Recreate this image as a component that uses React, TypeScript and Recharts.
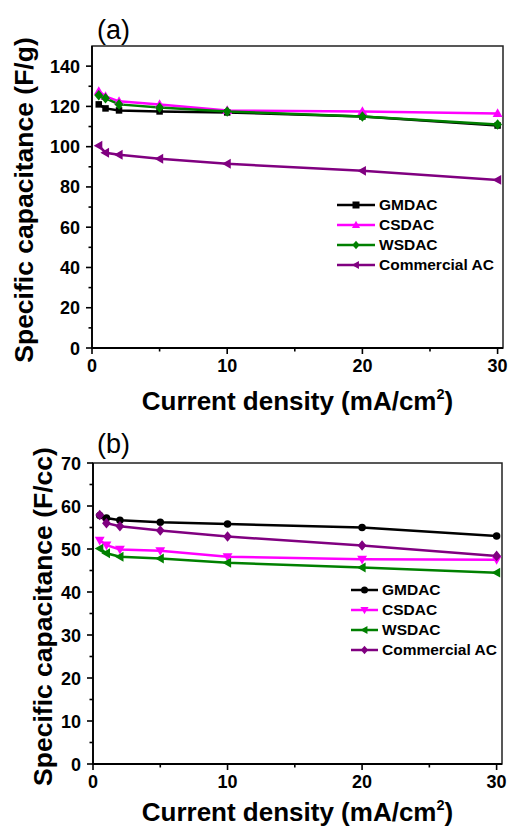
import React from 'react';
import { LineChart, Line, XAxis, YAxis, Legend, ReferenceArea } from 'recharts';

// ---- data ----
const currentDensity = [0.5, 1, 2, 5, 10, 20, 30];

// (a) gravimetric capacitance, F/g
const gmdacG = [121, 119, 118, 117.5, 117, 115, 110.5];
const csdacG = [127.5, 125, 122.5, 121, 118, 117.5, 116.5];
const wsdacG = [125.5, 124, 121, 119.5, 117.5, 115, 111];
const commercialG = [100.5, 97, 96, 94, 91.5, 88, 83.5];

// (b) volumetric capacitance, F/cc
const gmdacCC = [57.8, 57.2, 56.7, 56.2, 55.8, 55, 53];
const csdacCC = [52, 50.9, 49.9, 49.6, 48.2, 47.6, 47.5];
const wsdacCC = [50.1, 49, 48.2, 47.8, 46.8, 45.7, 44.5];
const commercialCC = [57.9, 56, 55.3, 54.3, 52.9, 50.8, 48.4];

const seriesNames = ['GMDAC', 'CSDAC', 'WSDAC', 'Commercial AC'];
const seriesKeys = ['gmdac', 'csdac', 'wsdac', 'commercial'];
const seriesColors = ['#000000', '#ff00ff', '#008000', '#800080'];
const markersA = ['square', 'triUp', 'diamond', 'triLeft'];
const markersB = ['circle', 'triDown', 'triLeft', 'diamond'];

const xTicks = [0, 5, 10, 15, 20, 25, 30];
const yTicksA = [0, 10, 20, 30, 40, 50, 60, 70, 80, 90, 100, 110, 120, 130, 140];
const yTicksB = [0, 5, 10, 15, 20, 25, 30, 35, 40, 45, 50, 55, 60, 65, 70];

const buildRows = (cols: number[][]) =>
  currentDensity.map((x, i) => {
    const r: Record<string, number> = { x };
    seriesKeys.forEach((k, j) => {
      r[k] = cols[j][i];
    });
    return r;
  });

const rowsA = buildRows([gmdacG, csdacG, wsdacG, commercialG]);
const rowsB = buildRows([gmdacCC, csdacCC, wsdacCC, commercialCC]);

const FONT = '"Liberation Sans", Arial, Helvetica, sans-serif';

// ---- drawing helpers ----
function Marker({ cx, cy, kind, color, s }: { cx: number; cy: number; kind: string; color: string; s: number }) {
  if (cx == null || cy == null) return null;
  switch (kind) {
    case 'square':
      return <rect x={cx - s / 2} y={cy - s / 2} width={s} height={s} fill={color} />;
    case 'circle':
      return <circle cx={cx} cy={cy} r={s / 2} fill={color} />;
    case 'triUp':
      return (
        <polygon
          points={`${cx},${cy - s * 0.6} ${cx + s * 0.58},${cy + s * 0.42} ${cx - s * 0.58},${cy + s * 0.42}`}
          fill={color}
        />
      );
    case 'triDown':
      return (
        <polygon
          points={`${cx},${cy + s * 0.6} ${cx + s * 0.58},${cy - s * 0.42} ${cx - s * 0.58},${cy - s * 0.42}`}
          fill={color}
        />
      );
    case 'triLeft':
      return (
        <polygon
          points={`${cx - s * 0.6},${cy} ${cx + s * 0.42},${cy - s * 0.58} ${cx + s * 0.42},${cy + s * 0.58}`}
          fill={color}
        />
      );
    case 'diamond':
    default:
      return (
        <polygon
          points={`${cx},${cy - s * 0.62} ${cx + s * 0.52},${cy} ${cx},${cy + s * 0.62} ${cx - s * 0.52},${cy}`}
          fill={color}
        />
      );
  }
}

const XTick = (props: any) => {
  const { x, y, payload } = props;
  const v = payload.value;
  const major = v % 10 === 0;
  return (
    <g>
      <line x1={x} x2={x} y1={y} y2={y + (major ? 6 : 3.5)} stroke="#000" strokeWidth={1.6} />
      {major && (
        <text x={x} y={y + 24} textAnchor="middle" fontSize={18} fontWeight="bold" fontFamily={FONT} fill="#000">
          {v}
        </text>
      )}
    </g>
  );
};

const YTick = (props: any) => {
  const { x, y, payload, majorStep } = props;
  const v = payload.value;
  const isMajor = v % majorStep === 0;
  return (
    <g>
      <line x1={x} x2={x - (isMajor ? 6 : 3.5)} y1={y} y2={y} stroke="#000" strokeWidth={1.6} />
      {isMajor && (
        <text x={x - 12} y={y + 6.5} textAnchor="end" fontSize={18} fontWeight="bold" fontFamily={FONT} fill="#000">
          {v}
        </text>
      )}
    </g>
  );
};

const YTitle = (props: any) => {
  const { viewBox, value, baseX } = props;
  const cy = viewBox.y + viewBox.height / 2 + 3;
  return (
    <text
      x={baseX}
      y={cy}
      transform={`rotate(-90 ${baseX} ${cy})`}
      textAnchor="middle"
      fontSize={26.5}
      fontWeight="bold"
      fontFamily={FONT}
      fill="#000"
    >
      {value}
    </text>
  );
};

const XTitle = (props: any) => {
  const { viewBox, dyBase } = props;
  const cx = viewBox.x + viewBox.width / 2;
  const y = viewBox.y + dyBase;
  return (
    <text x={cx} y={y} textAnchor="middle" fontSize={26} fontWeight="bold" fontFamily={FONT} fill="#000">
      Current density (mA/cm
      <tspan dy={-11} fontSize={14.5}>
        2
      </tspan>
      <tspan dy={11}>)</tspan>
    </text>
  );
};

function LegendBox({ markers, lineLen, size }: { markers: string[]; lineLen: number; size: number }) {
  return (
    <div style={{ fontFamily: FONT, fontWeight: 'bold', fontSize: 15.5, color: '#000' }}>
      {seriesNames.map((n, i) => (
        <div key={n} style={{ display: 'flex', alignItems: 'center', height: 20, whiteSpace: 'nowrap' }}>
          <svg width={lineLen + 4} height={20} style={{ display: 'block' }}>
            <line x1={1} x2={lineLen + 1} y1={10} y2={10} stroke={seriesColors[i]} strokeWidth={2.5} />
            <Marker cx={lineLen / 2 + 1} cy={10} kind={markers[i]} color={seriesColors[i]} s={size} />
          </svg>
          <span style={{ marginLeft: 1 }}>{n}</span>
        </div>
      ))}
    </div>
  );
}

type PanelProps = {
  rows: Record<string, number>[];
  markers: string[];
  yMax: number;
  yTicks: number[];
  majorStep: number;
  yTitle: string;
  yTitleX: number;
  xTitleDy: number;
  top: number;
  leftAxis: number;
  right: number;
  xAxisH: number;
  legendLeft: number;
  legendTop: number;
  legendLine: number;
  markerSizes: number[];
};

function Panel(p: PanelProps) {
  return (
    <LineChart
      width={508}
      height={415}
      data={p.rows}
      margin={{ top: p.top, right: p.right, left: 0, bottom: 0 }}
    >
      <XAxis
        dataKey="x"
        type="number"
        domain={[0, 30.4]}
        ticks={xTicks}
        interval={0}
        allowDataOverflow
        tickSize={0}
        tickMargin={0}
        tickLine={false}
        tick={(t: any) => <XTick {...t} />}
        axisLine={{ stroke: '#000', strokeWidth: 1.8 }}
        height={p.xAxisH}
        label={<XTitle dyBase={p.xTitleDy} />}
      />
      <YAxis
        type="number"
        domain={[0, p.yMax]}
        ticks={p.yTicks}
        interval={0}
        allowDataOverflow
        tickSize={0}
        tickMargin={0}
        tickLine={false}
        tick={(t: any) => <YTick {...t} majorStep={p.majorStep} />}
        axisLine={{ stroke: '#000', strokeWidth: 1.8 }}
        width={p.leftAxis}
        label={<YTitle value={p.yTitle} baseX={p.yTitleX} />}
      />
      <ReferenceArea
        x1={0}
        x2={30.4}
        y1={0}
        y2={p.yMax}
        fill="none"
        fillOpacity={0}
        stroke="#222"
        strokeWidth={1.5}
        ifOverflow="visible"
      />
      {seriesKeys.map((k, i) => (
        <Line
          key={k}
          dataKey={k}
          type="linear"
          stroke={seriesColors[i]}
          strokeWidth={2.5}
          isAnimationActive={false}
          activeDot={false}
          dot={(d: any) => (
            <Marker
              key={`${k}-${d.index}`}
              cx={d.cx}
              cy={d.cy}
              kind={p.markers[i]}
              color={seriesColors[i]}
              s={p.markerSizes[i]}
            />
          )}
        />
      ))}
      <Legend
        layout="vertical"
        align="center"
        verticalAlign="middle"
        wrapperStyle={{ left: p.legendLeft, top: p.legendTop, width: 175, height: 82 }}
        content={() => <LegendBox markers={p.markers} lineLen={p.legendLine} size={7} />}
      />
    </LineChart>
  );
}

function PanelLabel({ text, top }: { text: string; top: number }) {
  return (
    <svg width={60} height={40} style={{ position: 'absolute', left: 90, top, overflow: 'visible' }}>
      <text x={7} y={31} fontSize={27} fontFamily={FONT} fill="#000">
        {text}
      </text>
    </svg>
  );
}

export default function App() {
  return (
    <div style={{ position: 'absolute', left: 0, top: 0, width: 508, height: 830, background: '#fff' }}>
      <div style={{ position: 'absolute', left: 0, top: 0 }}>
        <Panel
          rows={rowsA}
          markers={markersA}
          yMax={150}
          yTicks={yTicksA}
          majorStep={20}
          yTitle="Specific capacitance (F/g)"
          yTitleX={33}
          xTitleDy={62}
          top={46}
          leftAxis={92}
          right={5}
          xAxisH={67}
          legendLeft={336}
          legendTop={195}
          legendLine={38}
          markerSizes={[6.5, 8.5, 8.5, 8.5]}
        />
      </div>
      <div style={{ position: 'absolute', left: 0, top: 415 }}>
        <Panel
          rows={rowsB}
          markers={markersB}
          yMax={70}
          yTicks={yTicksB}
          majorStep={10}
          yTitle="Specific capacitance (F/cc)"
          yTitleX={52}
          xTitleDy={57}
          top={48}
          leftAxis={93}
          right={6}
          xAxisH={66}
          legendLeft={350}
          legendTop={165}
          legendLine={27}
          markerSizes={[7.5, 8.5, 8.5, 8.5]}
        />
      </div>
      <PanelLabel text="(a)" top={8} />
      <PanelLabel text="(b)" top={422} />
    </div>
  );
}
